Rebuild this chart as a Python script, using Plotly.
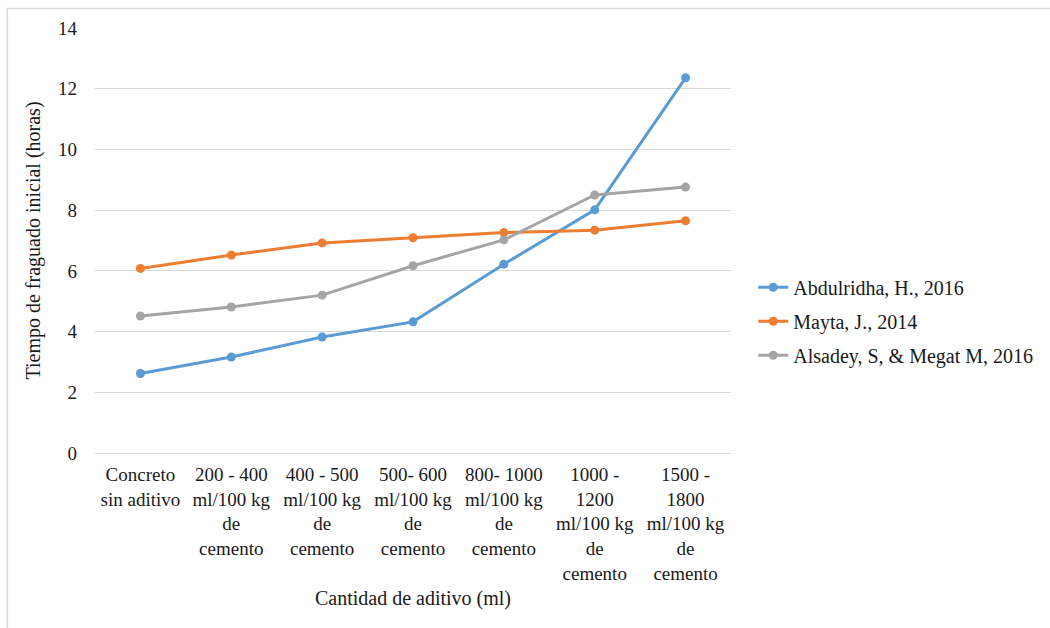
import plotly.graph_objects as go

categories = [
    "Concreto<br>sin aditivo",
    "200 - 400<br>ml/100 kg<br>de<br>cemento",
    "400 - 500<br>ml/100 kg<br>de<br>cemento",
    "500- 600<br>ml/100 kg<br>de<br>cemento",
    "800- 1000<br>ml/100 kg<br>de<br>cemento",
    "1000 -<br>1200<br>ml/100 kg<br>de<br>cemento",
    "1500 -<br>1800<br>ml/100 kg<br>de<br>cemento",
]
abdulridha = [2.62, 3.16, 3.82, 4.32, 6.22, 8.01, 12.36]
mayta = [6.08, 6.52, 6.92, 7.09, 7.26, 7.34, 7.65]
alsadey = [4.51, 4.81, 5.20, 6.17, 7.02, 8.50, 8.76]

series = [
    ("Abdulridha, H., 2016", abdulridha, "#5B9BD5"),
    ("Mayta, J., 2014", mayta, "#ED7D31"),
    ("Alsadey, S, & Megat M, 2016", alsadey, "#A5A5A5"),
]

FONT = "Times New Roman"
TXT = "#1a1a1a"
tick_font = dict(family=FONT, size=19, color=TXT)
legend_font = dict(family=FONT, size=20, color=TXT)

fig = go.Figure()
for name, vals, color in series:
    fig.add_trace(go.Scatter(
        x=list(range(len(categories))), y=vals, name=name, mode="lines+markers",
        legendgroup=name,
        line=dict(color=color, width=3), marker=dict(color=color, size=9),
    ))

W, H = 1050, 628
L, R, T, B = 95, 313, 28, 175
pw, ph = W - L - R, H - T - B

fig.update_layout(
    width=W, height=H,
    margin=dict(l=L, r=R, t=T, b=B),
    paper_bgcolor="white", plot_bgcolor="white",
    font_family=FONT, font_size=17, font_color=TXT,
    showlegend=True,
    legend=dict(x=1.035, y=0.31, xanchor="left", yanchor="middle",
                font=legend_font, tracegroupgap=5, bgcolor="rgba(0,0,0,0)"),
    xaxis=dict(
        tickmode="array", tickvals=list(range(len(categories))), ticktext=categories,
        range=[-0.5, len(categories) - 0.5], showgrid=False, zeroline=False,
        showline=False, ticks="", tickangle=0, tickfont=tick_font,
        ticklabelstandoff=8,
        title=dict(text="Cantidad de aditivo (ml)", standoff=8),
    ),
    yaxis=dict(
        range=[0, 14], dtick=2, showgrid=True, gridcolor="#D9D9D9", gridwidth=1,
        zeroline=True, zerolinecolor="#D9D9D9", zerolinewidth=1, showline=False,
        ticks="", ticklabelstandoff=17, tickfont=tick_font,
        title=dict(text="Tiempo de fraguado inicial (horas)", standoff=12),
    ),
    shapes=[dict(
        type="rect", xref="paper", yref="paper",
        x0=(6.5 - L) / pw, x1=(1060 - L) / pw,
        y0=(H - B - 640) / ph, y1=(H - B - 8.5) / ph,
        line=dict(color="#D9D9D9", width=1.5), fillcolor="rgba(0,0,0,0)", layer="below",
    )],
)

fig.write_html("out.html")
